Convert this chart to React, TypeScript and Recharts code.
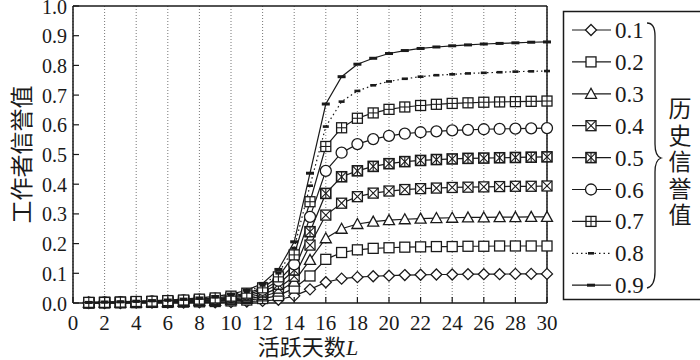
import React from 'react';
import { LineChart, Line, XAxis, YAxis, CartesianGrid, ReferenceLine } from 'recharts';

const days = [1, 2, 3, 4, 5, 6, 7, 8, 9, 10, 11, 12, 13, 14, 15, 16, 17, 18, 19, 20, 21, 22, 23, 24, 25, 26, 27, 28, 29, 30];

const seriesNames = ['0.1', '0.2', '0.3', '0.4', '0.5', '0.6', '0.7', '0.8', '0.9'];

const v01 = [0, 0, 0, 0.001, 0.001, 0.001, 0.001, 0.002, 0.002, 0.003, 0.005, 0.007, 0.011, 0.024, 0.046, 0.07, 0.082, 0.087, 0.09, 0.092, 0.094, 0.095, 0.096, 0.096, 0.097, 0.097, 0.097, 0.098, 0.098, 0.098];
const v02 = [0, 0.001, 0.001, 0.001, 0.002, 0.002, 0.003, 0.004, 0.005, 0.007, 0.01, 0.015, 0.025, 0.05, 0.091, 0.147, 0.17, 0.179, 0.184, 0.186, 0.188, 0.189, 0.19, 0.19, 0.191, 0.191, 0.192, 0.192, 0.192, 0.192];
const v03 = [0.001, 0.001, 0.001, 0.002, 0.003, 0.003, 0.004, 0.006, 0.007, 0.01, 0.014, 0.022, 0.038, 0.072, 0.145, 0.218, 0.25, 0.266, 0.274, 0.279, 0.282, 0.284, 0.286, 0.287, 0.288, 0.288, 0.289, 0.289, 0.29, 0.29];
const v04 = [0.001, 0.001, 0.002, 0.003, 0.004, 0.004, 0.006, 0.008, 0.01, 0.013, 0.019, 0.029, 0.05, 0.09, 0.195, 0.296, 0.336, 0.358, 0.37, 0.377, 0.382, 0.385, 0.387, 0.389, 0.39, 0.391, 0.392, 0.393, 0.393, 0.394];
const v05 = [0.001, 0.002, 0.002, 0.003, 0.004, 0.006, 0.007, 0.009, 0.012, 0.017, 0.024, 0.037, 0.063, 0.111, 0.24, 0.369, 0.425, 0.445, 0.46, 0.469, 0.476, 0.48, 0.483, 0.485, 0.487, 0.488, 0.489, 0.49, 0.491, 0.492];
const v06 = [0.001, 0.002, 0.003, 0.004, 0.005, 0.007, 0.009, 0.011, 0.015, 0.02, 0.029, 0.044, 0.075, 0.13, 0.29, 0.445, 0.506, 0.535, 0.552, 0.563, 0.57, 0.575, 0.578, 0.581, 0.583, 0.585, 0.586, 0.587, 0.588, 0.589];
const v07 = [0.002, 0.002, 0.003, 0.005, 0.006, 0.008, 0.01, 0.013, 0.017, 0.023, 0.033, 0.051, 0.088, 0.162, 0.341, 0.527, 0.59, 0.622, 0.64, 0.652, 0.66, 0.665, 0.669, 0.672, 0.674, 0.676, 0.677, 0.678, 0.679, 0.68];
const v08 = [0.002, 0.003, 0.004, 0.005, 0.007, 0.009, 0.012, 0.015, 0.02, 0.027, 0.038, 0.059, 0.1, 0.185, 0.395, 0.594, 0.678, 0.714, 0.733, 0.746, 0.755, 0.762, 0.767, 0.77, 0.773, 0.775, 0.777, 0.779, 0.78, 0.781];
const v09 = [0.002, 0.003, 0.004, 0.006, 0.008, 0.01, 0.013, 0.017, 0.022, 0.03, 0.043, 0.066, 0.113, 0.206, 0.437, 0.67, 0.762, 0.804, 0.824, 0.84, 0.85, 0.857, 0.862, 0.866, 0.869, 0.872, 0.874, 0.876, 0.878, 0.879];

const markerKinds = ['diamond', 'square', 'triangle', 'xbox', 'xbox2', 'circle', 'plusbox', 'barSmall', 'bar'];
const dashed = [false, false, false, false, false, false, false, true, false];

const xTicks = [0, 2, 4, 6, 8, 10, 12, 14, 16, 18, 20, 22, 24, 26, 28, 30];
const yTicks = [0, 0.1, 0.2, 0.3, 0.4, 0.5, 0.6, 0.7, 0.8, 0.9, 1.0];

const xTitle = '活跃天数';
const xTitleVar = 'L';
const yTitle = '工作者信誉值';
const legendTitle = '历史信誉值';

const seriesValues = [v01, v02, v03, v04, v05, v06, v07, v08, v09];

const data = days.map((L, i) => {
  const row: Record<string, number> = { L };
  seriesValues.forEach((vals, k) => {
    row['s' + k] = vals[i];
  });
  return row;
});

const INK = '#1a1a1a';
const SERIF = '"Liberation Serif", "DejaVu Serif", serif';
const CJK = '"Noto Sans CJK SC", sans-serif';

function Marker({ kind, cx, cy }: { kind: string; cx: number; cy: number }) {
  const sw = 1.3;
  const common = { stroke: INK, strokeWidth: sw, fill: '#fff' };
  const h = 5;
  switch (kind) {
    case 'diamond':
      return <polygon points={`${cx},${cy - 5.5} ${cx + 5.5},${cy} ${cx},${cy + 5.5} ${cx - 5.5},${cy}`} {...common} />;
    case 'square':
      return <rect x={cx - h} y={cy - h} width={2 * h} height={2 * h} {...common} />;
    case 'triangle':
      return <polygon points={`${cx},${cy - 5.5} ${cx + 5.5},${cy + 4.5} ${cx - 5.5},${cy + 4.5}`} {...common} />;
    case 'xbox':
      return (
        <g>
          <rect x={cx - h} y={cy - h} width={2 * h} height={2 * h} {...common} />
          <line x1={cx - h} y1={cy - h} x2={cx + h} y2={cy + h} stroke={INK} strokeWidth={1.1} />
          <line x1={cx + h} y1={cy - h} x2={cx - h} y2={cy + h} stroke={INK} strokeWidth={1.1} />
        </g>
      );
    case 'xbox2':
      return (
        <g>
          <rect x={cx - h} y={cy - h} width={2 * h} height={2 * h} {...common} strokeWidth={1.6} />
          <line x1={cx - h} y1={cy - h} x2={cx + h} y2={cy + h} stroke={INK} strokeWidth={1.1} />
          <line x1={cx + h} y1={cy - h} x2={cx - h} y2={cy + h} stroke={INK} strokeWidth={1.1} />
          <line x1={cx} y1={cy - h} x2={cx} y2={cy + h} stroke={INK} strokeWidth={1.1} />
        </g>
      );
    case 'circle':
      return <circle cx={cx} cy={cy} r={5.5} {...common} />;
    case 'plusbox':
      return (
        <g>
          <rect x={cx - h} y={cy - h} width={2 * h} height={2 * h} {...common} />
          <line x1={cx - h} y1={cy} x2={cx + h} y2={cy} stroke={INK} strokeWidth={1.1} />
          <line x1={cx} y1={cy - h} x2={cx} y2={cy + h} stroke={INK} strokeWidth={1.1} />
        </g>
      );
    case 'barSmall':
      return <rect x={cx - 3} y={cy - 1.3} width={6} height={2.6} fill={INK} />;
    case 'bar':
    default:
      return <rect x={cx - 4} y={cy - 1.5} width={8} height={3} fill={INK} />;
  }
}

function XTick(props: any) {
  const { x, y, payload } = props;
  return (
    <g>
      <line x1={x} y1={y} x2={x} y2={y - 6} stroke={INK} strokeWidth={1.2} />
      <text x={x} y={y + 27} textAnchor="middle" fontFamily={SERIF} fontSize={21} fill={INK}>
        {payload.value}
      </text>
    </g>
  );
}

function YTick(props: any) {
  const { x, y, payload } = props;
  return (
    <g>
      <line x1={x} y1={y} x2={x + 6} y2={y} stroke={INK} strokeWidth={1.2} />
      <text x={x - 6} y={y + 7.5} textAnchor="end" fontFamily={SERIF} fontSize={20} fill={INK}>
        {Number(payload.value).toFixed(1)}
      </text>
    </g>
  );
}

function XTitle(props: any) {
  const vb = props.viewBox || {};
  return (
    <text x={vb.x + vb.width / 2 - 2} y={vb.y + 52} textAnchor="middle" fontSize={22} fill={INK} fontFamily={CJK}>
      {xTitle}
      <tspan fontFamily={SERIF} fontStyle="italic">{xTitleVar}</tspan>
    </text>
  );
}

function YTitle(props: any) {
  const vb = props.viewBox || {};
  const cx = vb.x + 20;
  const cy = vb.y + vb.height / 2;
  return (
    <text
      x={cx}
      y={cy}
      transform={`rotate(-90, ${cx}, ${cy})`}
      textAnchor="middle"
      dominantBaseline="central"
      fontSize={23}
      fill={INK}
      fontFamily={CJK}
    >
      {yTitle}
    </text>
  );
}

function LegendBox() {
  const rowY0 = 30;
  const rowStep = 31.9;
  return (
    <svg width={700} height={360} style={{ position: 'absolute', left: 0, top: 0, pointerEvents: 'none' }}>
      <path d="M 704 11.5 L 563.5 11.5 L 563.5 299.5 L 704 299.5" fill="none" stroke={INK} strokeWidth={1.5} />
      {seriesNames.map((n, k) => {
        const y = rowY0 + k * rowStep;
        return (
          <g key={n}>
            <line
              x1={572}
              x2={611}
              y1={y}
              y2={y}
              stroke={INK}
              strokeWidth={1.2}
              strokeDasharray={dashed[k] ? '1.5 3' : undefined}
            />
            <Marker kind={markerKinds[k]} cx={591} cy={y} />
            <text x={615} y={y + 8} fontFamily={SERIF} fontSize={23} fill={INK}>
              {n}
            </text>
          </g>
        );
      })}
      <path
        d="M 647 23 Q 655 23 655 36 L 655 144 Q 655 156 661 158 Q 655 160 655 172 L 655 272 Q 655 286 647 288"
        fill="none"
        stroke={INK}
        strokeWidth={1.3}
      />
      {legendTitle.split('').map((ch, i) => (
        <text
          key={i}
          x={680}
          y={107 + i * 26.5}
          textAnchor="middle"
          dominantBaseline="central"
          fontFamily={CJK}
          fontSize={23}
          fill={INK}
        >
          {ch}
        </text>
      ))}
    </svg>
  );
}

export default function App() {
  return (
    <div style={{ position: 'absolute', left: 0, top: 0, width: 700, height: 360, background: '#fff' }}>
      <LineChart width={700} height={360} data={data} margin={{ top: 6, right: 153, bottom: 0, left: 0 }}>
        <CartesianGrid horizontal={false} stroke="#777" strokeDasharray="1 2" strokeWidth={1} />
        <XAxis
          dataKey="L"
          type="number"
          domain={[0, 30]}
          ticks={xTicks}
          interval={0}
          height={57}
          tickLine={false}
          tickSize={0}
          tickMargin={0}
          axisLine={{ stroke: INK, strokeWidth: 1.5 }}
          tick={<XTick />}
          label={{ content: <XTitle /> }}
        />
        <YAxis
          type="number"
          domain={[0, 1]}
          ticks={yTicks}
          interval={0}
          width={73}
          tickLine={false}
          tickSize={0}
          tickMargin={0}
          axisLine={{ stroke: INK, strokeWidth: 1.5 }}
          tick={<YTick />}
          label={{ content: <YTitle /> }}
        />
        <ReferenceLine y={1} stroke={INK} strokeWidth={1.5} />
        <ReferenceLine x={30} stroke={INK} strokeWidth={1.5} />
        {seriesNames.map((n, k) => (
          <Line
            key={n}
            dataKey={'s' + k}
            name={n}
            type="linear"
            stroke={INK}
            strokeWidth={1.2}
            strokeDasharray={dashed[k] ? '1.5 3' : undefined}
            isAnimationActive={false}
            dot={(p: any) => <Marker key={`${n}-${p.index}`} kind={markerKinds[k]} cx={p.cx} cy={p.cy} />}
            activeDot={false}
          />
        ))}
      </LineChart>
      <LegendBox />
    </div>
  );
}
